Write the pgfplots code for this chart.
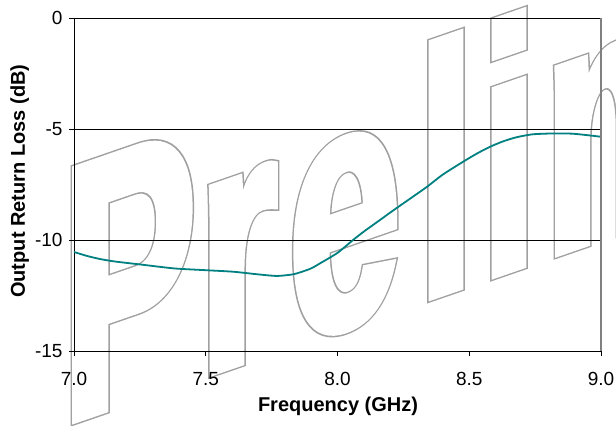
\documentclass[border=0pt]{standalone}
\usepackage{pgfplots}
\pgfplotsset{compat=1.18}
\usepackage{fontspec}
\setmainfont{Liberation Sans}
\newfontfamily\wmfont[FakeStretch=0.57]{Liberation Sans Bold}
\definecolor{teal80}{HTML}{008080}
\definecolor{wmgray}{HTML}{A0A0A0}
\definecolor{edgegray}{HTML}{808080}
\newcommand\wmletter[3]{%
  \node[anchor=base west, inner sep=0pt, outer sep=0pt, yscale=#3, transform shape, text=wmgray] at (#1bp,0)
   {\wmfont\fontsize{350bp}{350bp}\selectfont\special{pdf:literal direct 2 Tr 10.5 w 0 j 4 M}#2\special{pdf:literal direct 0 Tr}};
  \node[anchor=base west, inner sep=0pt, outer sep=0pt, yscale=#3, transform shape, text=white] at (#1bp,0)
   {\wmfont\fontsize{350bp}{350bp}\selectfont\special{pdf:literal direct 2 Tr 7.5 w 0 j 4 M}#2\special{pdf:literal direct 0 Tr}};
}
\begin{document}
\begin{tikzpicture}
\useasboundingbox (0,0) rectangle (616bp,426bp);
% watermark (drawn first, behind the chart)
\begin{scope}[shift={(0bp,-19.6bp)}, yslant=0.345]
\wmletter{62.6}{P}{1.04}
\wmletter{199.4}{r}{1}
\wmletter{289.3}{e}{1}
\wmletter{418.4}{l}{1}
\wmletter{481.4}{i}{1}
\wmletter{545}{m}{1}
\end{scope}
\begin{axis}[
  at={(74bp,75bp)}, anchor=south west,
  scale only axis, width=527bp, height=333bp,
  xmin=7, xmax=9, ymin=-15, ymax=0,
  axis lines=left, axis line style={-, black, line width=0.9bp},
  xtick={7,7.5,8,8.5,9}, xticklabels={7.0,7.5,8.0,8.5,9.0},
  ytick={-15,-10,-5,0}, yticklabels={-15,-10,-5,0},
  tick align=outside, major tick length=5bp,
  tick style={black, line width=0.8bp},
  ymajorgrids, grid style={black, line width=0.8bp},
  ticklabel style={font=\fontsize{19bp}{22bp}\selectfont},
  xticklabel style={yshift=-13bp},
  yticklabel style={xshift=-3bp},
  xlabel={Frequency (GHz)}, ylabel={Output Return Loss (dB)},
  every axis x label/.style={at={(axis description cs:0.501,-0.183)}, anchor=base,
     font=\fontsize{20bp}{24bp}\selectfont\bfseries},
  every axis y label/.style={at={(axis description cs:-0.093,0.51)}, rotate=90, anchor=base,
     font=\fontsize{20bp}{24bp}\selectfont\bfseries},
  clip=false,
]
\addplot[teal80, line width=1.8bp, no marks, smooth, tension=0.4] coordinates {
(7.00,-10.54) (7.05,-10.72) (7.10,-10.86) (7.156,-10.97) (7.25,-11.10)
(7.38,-11.28) (7.50,-11.36) (7.605,-11.43) (7.70,-11.55) (7.77,-11.62)
(7.83,-11.55) (7.86,-11.45) (7.90,-11.28) (7.934,-11.05) (8.00,-10.58)
(8.059,-10.0) (8.10,-9.62) (8.161,-9.1) (8.21,-8.68) (8.268,-8.2)
(8.34,-7.6) (8.40,-7.05) (8.476,-6.48) (8.53,-6.1) (8.579,-5.8)
(8.63,-5.55) (8.68,-5.37) (8.74,-5.24) (8.82,-5.20) (8.89,-5.21)
(8.95,-5.28) (9.00,-5.35)
};
\draw[black, line width=0.9bp] (rel axis cs:0,1) -- (rel axis cs:1,1);
\draw[edgegray, line width=1.5bp] (rel axis cs:1,1) -- (rel axis cs:1,0);
\end{axis}
\end{tikzpicture}
\end{document}
